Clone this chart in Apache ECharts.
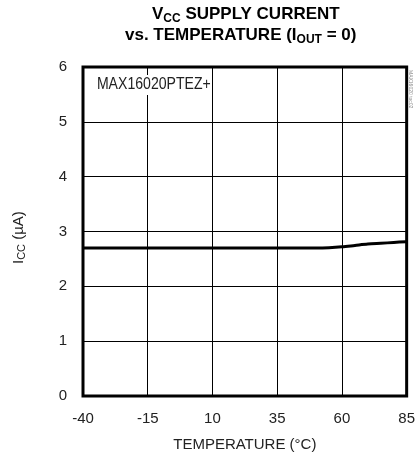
<!DOCTYPE html>
<html><head><meta charset="utf-8">
<script src="https://cdn.jsdelivr.net/npm/echarts@6/dist/echarts.min.js"></script>
<style>html,body{margin:0;padding:0;background:#fff}#c{width:418px;height:462px}</style>
</head><body><div id="c"></div>
<script>
const temps = [-40, -15, 10, 35, 50, 55, 60, 65, 70, 75, 80, 85];
const icc   = [2.70, 2.70, 2.70, 2.70, 2.70, 2.705, 2.72, 2.745, 2.77, 2.785, 2.80, 2.815];
const xTicks = [-40, -15, 10, 35, 60, 85];
const yTicks = [0, 1, 2, 3, 4, 5, 6];
const FONT = '"Liberation Sans Narrow", "Liberation Sans", sans-serif';

const chart = echarts.init(document.getElementById('c'), null, {renderer: 'canvas'});
chart.setOption({
  animation: false,
  backgroundColor: '#fff',
  grid: {left: 83, top: 67, width: 325, height: 329, show: true, borderColor: '#000', borderWidth: 3, backgroundColor: 'transparent', z: 3},
  xAxis: {
    type: 'value', min: xTicks[0], max: xTicks[xTicks.length-1], interval: 25,
    axisLine: {show: false}, axisTick: {show: false},
    splitLine: {show: true, lineStyle: {color: '#000', width: 1}},
    axisLabel: {color: '#222', fontFamily: FONT, fontSize: 15, margin: 15},
    name: 'TEMPERATURE (°C)', nameLocation: 'middle', nameGap: 41,
    nameTextStyle: {color: '#222', fontFamily: FONT, fontSize: 15}
  },
  yAxis: {
    type: 'value', min: 0, max: 6, interval: 1,
    axisLine: {show: false}, axisTick: {show: false},
    splitLine: {show: true, lineStyle: {color: '#000', width: 1}},
    axisLabel: {color: '#222', fontFamily: FONT, fontSize: 15, margin: 16}
  },
  series: [{
    type: 'line', data: temps.map((t, i) => [t, icc[i]]), smooth: 0.3,
    symbol: 'none', lineStyle: {color: '#000', width: 3}, z: 5
  }],
  graphic: [
    {type: 'text', x: 152, top: 6, style: {
      rich: {
        b: {fontFamily: FONT, fontWeight: 'bold', fontSize: 17, fill: '#000'},
        s: {fontFamily: FONT, fontWeight: 'bold', fontSize: 12, fill: '#000', padding: [8, 0, 0, 0]}
      },
      text: '{b|V}{s|CC}{b| SUPPLY CURRENT}'
    }},
    {type: 'text', x: 125, top: 27, style: {
      rich: {
        b: {fontFamily: FONT, fontWeight: 'bold', fontSize: 17, fill: '#000'},
        s: {fontFamily: FONT, fontWeight: 'bold', fontSize: 12, fill: '#000', padding: [8, 0, 0, 0]}
      },
      text: '{b|vs. TEMPERATURE (I}{s|OUT}{b| = 0)}'
    }},
    {type: 'text', x: 96, y: 75, z: 10, scaleX: 0.88, style: {
      text: 'MAX16020PTEZ+', fontFamily: FONT, fontSize: 16, fill: '#222',
      backgroundColor: '#fff', padding: [2, 1, 2, 1]
    }},
    {type: 'text', x: 10, y: 264, rotation: Math.PI/2, style: {
      rich: {
        n: {fontFamily: FONT, fontSize: 15, fill: '#222'},
        s: {fontFamily: FONT, fontSize: 11, fill: '#222', padding: [6, 0, 0, 0]}
      },
      text: '{n|I}{s|CC}{n| (µA)}'
    }},
    {type: 'text', x: 413, y: 70, rotation: -Math.PI/2, style: {
      text: 'MAX16020 toc02', fontFamily: FONT, fontSize: 5, fill: '#888'
    }}
  ]
});
</script></body></html>
